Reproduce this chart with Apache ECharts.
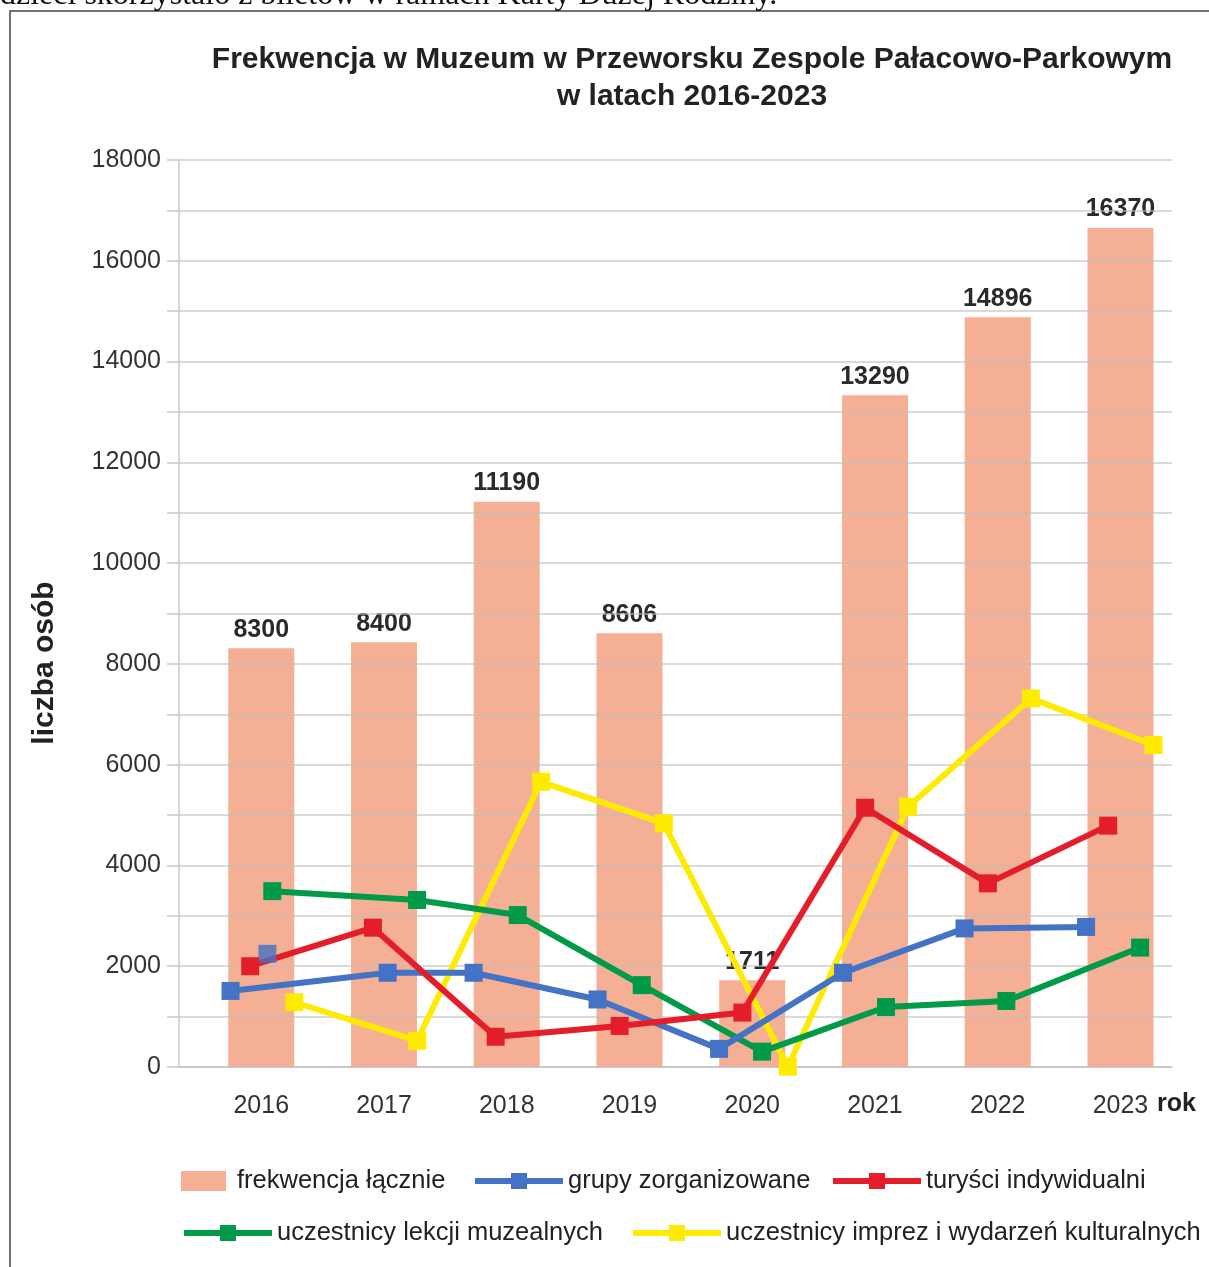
<!DOCTYPE html>
<html>
<head>
<meta charset="utf-8">
<script src="https://cdn.jsdelivr.net/npm/echarts@6/dist/echarts.min.js"></script>
<style>
    html, body { margin: 0; padding: 0; background: #fff; }
    #chart { width: 1209px; height: 1267px; }
</style>
</head>
<body>
<div id="chart"></div>
<script>
// lata i frekwencja laczna (wysokosc slupka, podpis z rysunku)
const years = [2016, 2017, 2018, 2019, 2020, 2021, 2022, 2023];
const totalBars = [8310, 8430, 11220, 8610, 1720, 13330, 14880, 16650];
const totalLabels = ['8300', '8400', '11190', '8606', '1711', '13290', '14896', '16370'];

// punkty linii sa przesuniete wzgledem srodka slupka, wiec x to pozycja w "latach"
const groupX = [2015.75, 2017.03, 2017.73, 2018.74, 2019.73, 2020.74, 2021.73, 2022.72];
const groupY = [1510, 1870, 1870, 1340, 360, 1870, 2750, 2780];
const strayGroup = [2016.05, 2245];

const touristX = [2015.91, 2016.91, 2017.91, 2018.92, 2019.92, 2020.92, 2021.92, 2022.90];
const touristY = [2000, 2765, 600, 815, 1080, 5145, 3645, 4790];

const lessonX = [2016.09, 2017.27, 2018.09, 2019.10, 2020.08, 2021.09, 2022.07, 2023.16];
const lessonY = [3490, 3315, 3015, 1625, 305, 1190, 1310, 2370];

const eventX = [2016.27, 2017.27, 2018.28, 2019.28, 2020.29, 2021.27, 2022.27, 2023.27];
const eventY = [1285, 520, 5660, 4835, 5, 5165, 7315, 6390];

const font = "'Liberation Sans', Arial, sans-serif";

function pairs(xs, ys) {
    let out = [];
    for (let i = 0; i < xs.length; i++) {
        out.push([xs[i], ys[i]]);
    }
    return out;
}

function lineSeries(name, color, xs, ys) {
    return {
        name: name,
        type: 'line',
        data: pairs(xs, ys),
        z: 4,
        symbol: 'rect',
        symbolSize: 18,
        color: color,
        lineStyle: { color: color, width: 6 },
        itemStyle: { color: color },
        emphasis: { disabled: true },
        animation: false
    };
}

function legendItem(name, left, top, w, gap, icon) {
    let l = {
        data: [name],
        left: left,
        top: top,
        padding: 0,
        itemWidth: w,
        itemHeight: 20,
        selectedMode: false,
        lineStyle: { width: 6 },
        textStyle: { fontFamily: font, fontSize: 25.5, color: '#222', padding: [0, 0, 0, gap] }
    };
    if (icon) {
        l.icon = icon;
    }
    return l;
}

const chart = echarts.init(document.getElementById('chart'));

const option = {
    backgroundColor: '#fff',
    animation: false,
    title: {
        text: 'Frekwencja w Muzeum w Przeworsku Zespole Pałacowo-Parkowym\nw latach 2016-2023',
        left: 687,
        textAlign: 'center',
        top: 36,
        textStyle: { fontFamily: font, fontSize: 30, fontWeight: 'bold', color: '#222', lineHeight: 37 }
    },
    grid: { left: 179, right: 37, top: 160, bottom: 200 },
    xAxis: {
        type: 'value',
        min: 2015.33,
        max: 2023.42,
        axisLine: { show: true, lineStyle: { color: '#c8c8c8', width: 1.5 } },
        axisTick: { show: false },
        splitLine: { show: false },
        axisLabel: {
            customValues: years,
            margin: 27,
            fontFamily: font,
            fontSize: 25,
            color: '#333',
            formatter: function (v) { return String(Math.round(v)); }
        }
    },
    yAxis: {
        type: 'value',
        min: 0,
        max: 18000,
        interval: 1000,
        z: 3,
        axisLine: { show: true, lineStyle: { color: '#c8c8c8', width: 1.5 } },
        axisTick: { show: true, length: 12, lineStyle: { color: '#c8c8c8', width: 1.5 } },
        splitLine: { show: true, lineStyle: { color: 'rgba(190,190,190,0.75)', width: 1.5 } },
        axisLabel: {
            margin: 18,
            fontFamily: font,
            fontSize: 25,
            color: '#333',
            formatter: function (v) { return v % 2000 === 0 ? String(v) : ''; }
        }
    },
    legend: [
        legendItem('frekwencja łącznie', 181, 1168, 45, 6, 'rect'),
        legendItem('grupy zorganizowane', 472, 1168, 88, 0),
        legendItem('turyści indywidualni', 830, 1168, 88, 0),
        legendItem('uczestnicy lekcji muzealnych', 181, 1220, 88, 0),
        legendItem('uczestnicy imprez i wydarzeń kulturalnych', 630, 1220, 88, 0)
    ],
    graphic: [
        {
            type: 'rect',
            shape: { x: 10, y: 11, width: 1230, height: 1290 },
            style: { fill: 'none', stroke: '#444', lineWidth: 1.5 },
            silent: true
        },
        {
            type: 'text',
            left: 0,
            top: -20,
            style: {
                text: 'dzieci skorzystało z biletów w ramach Karty Dużej Rodziny.',
                fontFamily: "'Liberation Serif', 'Times New Roman', serif",
                fontSize: 32,
                fill: '#111'
            },
            silent: true
        },
        {
            type: 'text',
            x: 45,
            y: 663,
            rotation: Math.PI / 2,
            style: {
                text: 'liczba osób',
                align: 'center',
                verticalAlign: 'middle',
                fontFamily: font,
                fontSize: 30,
                fontWeight: 'bold',
                fill: '#222'
            },
            silent: true
        },
        {
            type: 'text',
            left: 1157,
            top: 1092,
            style: {
                text: 'rok',
                fontFamily: font,
                fontSize: 25,
                fontWeight: 'bold',
                fill: '#222'
            },
            silent: true
        }
    ],
    series: [
        {
            name: 'frekwencja łącznie',
            type: 'bar',
            data: pairs(years, totalBars),
            barWidth: 66,
            z: 2,
            itemStyle: { color: '#F5AF94' },
            label: {
                show: true,
                position: 'top',
                distance: 6,
                fontFamily: font,
                fontSize: 25,
                fontWeight: 'bold',
                color: '#2a2a2a',
                formatter: function (p) { return totalLabels[p.dataIndex]; }
            },
            emphasis: { disabled: true }
        },
        lineSeries('uczestnicy imprez i wydarzeń kulturalnych', '#FFEB00', eventX, eventY),
        lineSeries('uczestnicy lekcji muzealnych', '#009A48', lessonX, lessonY),
        lineSeries('grupy zorganizowane', '#4472C4', groupX, groupY),
        {
            name: 'grupy (punkt)',
            type: 'scatter',
            data: [strayGroup],
            z: 4,
            symbol: 'rect',
            symbolSize: 18,
            itemStyle: { color: '#4472C4' },
            emphasis: { disabled: true }
        },
        lineSeries('turyści indywidualni', '#E31E2A', touristX, touristY)
    ]
};

chart.setOption(option);
</script>
</body>
</html>
